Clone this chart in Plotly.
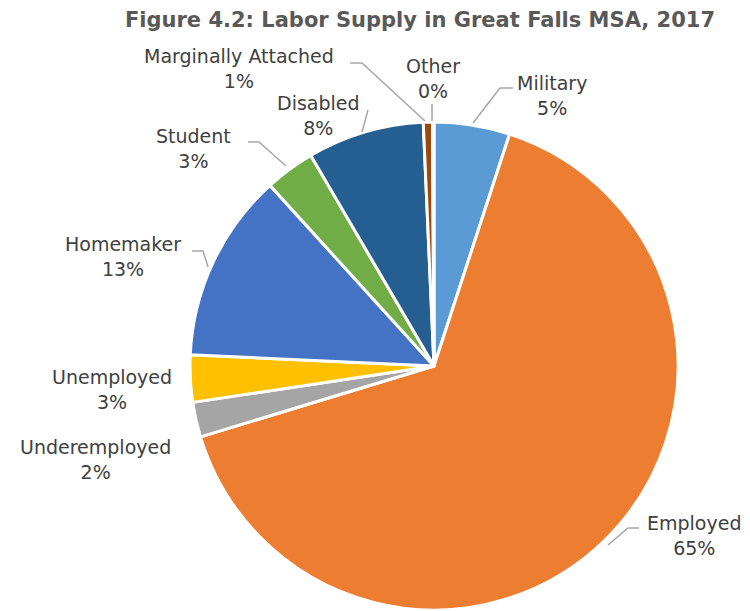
import plotly.graph_objects as go

labels = ["Military", "Employed", "Underemployed", "Unemployed", "Homemaker",
          "Student", "Disabled", "Marginally Attached", "Other"]
values = [5.0, 65.1, 2.3, 3.1, 12.5, 3.3, 7.7, 0.6, 0.1]
colors = ["#5B9BD5", "#ED7D31", "#A5A5A5", "#FFC000", "#4472C4",
          "#70AD47", "#255E91", "#9E480E", "#636363"]

W, H = 750, 611
OFF = 8  # page body margin

def px(x, y):
    return (x - OFF) / W, 1 - (y - OFF) / H

fig = go.Figure(go.Pie(
    labels=labels, values=values, sort=False, direction="clockwise", rotation=0,
    marker=dict(colors=colors, line=dict(color="white", width=3)),
    textinfo="none", hoverinfo="label+percent", showlegend=False,
    domain=dict(x=[(188 - OFF) / W, (680 - OFF) / W],
                y=[1 - (610 - OFF) / H, 1 - (122 - OFF) / H]),
))

# label placement (pixel centres) and leader lines (pixel polylines)
label_pos = {
    "Military": (552, 95),
    "Employed": (694, 535),
    "Underemployed": (95, 459),
    "Unemployed": (112, 389),
    "Homemaker": (123, 256),
    "Student": (193, 148),
    "Disabled": (318, 115),
    "Marginally Attached": (239, 69),
    "Other": (433, 79),
}
leaders = [
    [(513, 88), (500, 88), (473, 123)],
    [(639, 528), (628, 528), (608, 545)],
    [(192, 251), (203, 251), (208, 267)],
    [(248, 142), (259, 142), (286, 166)],
    [(368, 110), (362, 132)],
    [(350, 63), (362, 63), (425, 121)],
    [(432, 104), (432, 121)],
]

total = sum(values)
for lab, v in zip(labels, values):
    x, y = px(*label_pos[lab])
    fig.add_annotation(x=x, y=y, xref="paper", yref="paper", showarrow=False,
                       text=f"{lab}<br>{round(v / total * 100)}%",
                       font=dict(size=19, color="#404040", family="DejaVu Sans"),
                       xanchor="center", yanchor="middle", align="center")

for pts in leaders:
    path = "M " + " L ".join(f"{px(a, b)[0]},{px(a, b)[1]}" for a, b in pts)
    fig.add_shape(type="path", path=path, xref="paper", yref="paper",
                  line=dict(color="#A6A6A6", width=1.5))

tx, ty = px(420, 20)
fig.update_layout(
    width=W, height=H, margin=dict(l=0, r=0, t=0, b=0),
    paper_bgcolor="white", plot_bgcolor="white",
    title=dict(text="<b>Figure 4.2: Labor Supply in Great Falls MSA, 2017</b>",
               x=tx, xanchor="center", y=ty, yanchor="middle",
               font=dict(size=21, color="#595959", family="DejaVu Sans")),
)

fig.write_html("out.html")
